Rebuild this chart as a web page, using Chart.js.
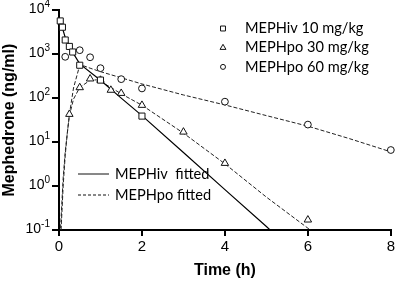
<!DOCTYPE html>
<html>
<head>
<meta charset="utf-8">
<script src="https://cdn.jsdelivr.net/npm/chart.js@4.4.1/dist/chart.umd.min.js"></script>
<style>
    html, body { margin: 0; padding: 0; background: #fff; }
    canvas { display: block; }
</style>
</head>
<body>
<canvas id="pkChart" width="397" height="282"></canvas>
<script>
// Observed concentrations (ng/ml) vs time (h)
const ivTime = [0.03, 0.083, 0.15, 0.25, 0.33, 0.5, 1, 2];
const ivConc = [5700, 4100, 2100, 1500, 1120, 560, 257, 39];
const po30Time = [0.25, 0.5, 0.75, 1, 1.25, 1.5, 2, 3, 4, 6];
const po30Conc = [43, 174, 275, 257, 152, 129, 69, 17, 3.3, 0.17];
const po60Time = [0.15, 0.5, 0.75, 1, 1.5, 2, 4, 6, 8];
const po60Conc = [870, 1230, 850, 480, 270, 166, 83, 25, 6.6];

// Fitted curves
const ivFitTime = [0, 0.08, 0.15, 0.25, 0.33, 0.5, 1, 1.5, 2, 3, 4, 5, 5.2];
const ivFitConc = [6500, 4000, 2400, 1500, 1100, 600, 255, 100, 40, 5.8, 0.83, 0.12, 0.08];
const po30FitTime = [0.05, 0.1, 0.15, 0.2, 0.25, 0.35, 0.5, 0.75, 0.9, 1, 1.25, 1.5, 2, 3, 4, 5, 6, 6.2];
const po30FitConc = [0.1, 1, 5, 16, 40, 95, 175, 255, 260, 240, 175, 125, 69, 16, 3.2, 0.56, 0.11, 0.08];
const po60FitTime = [0.03, 0.1, 0.15, 0.25, 0.35, 0.5, 0.6, 0.75, 1, 1.5, 2, 3, 4, 5, 6, 7, 8];
const po60FitConc = [0.08, 1.5, 6, 42, 170, 560, 540, 480, 400, 290, 210, 118, 70, 40, 23, 12, 6];

const seriesNames = ['MEPHiv 10 mg/kg', 'MEPHpo 30 mg/kg', 'MEPHpo 60 mg/kg'];
const seriesStyles = ['rect', 'triangle', 'circle'];
const fitNames = ['MEPHiv  fitted', 'MEPHpo fitted'];

const xTicks = [0, 2, 4, 6, 8];
const yTicks = [0.1, 1, 10, 100, 1000, 10000];
const yExponents = ['-1', '0', '1', '2', '3', '4'];

const toPoints = (xs, ys) => xs.map((x, i) => ({ x: x, y: ys[i] }));

function drawMarker(ctx, style, x, y, r) {
    ctx.beginPath();
    if (style === 'rect') {
        const s = r * Math.SQRT1_2;
        ctx.rect(x - s, y - s, 2 * s, 2 * s);
    } else if (style === 'triangle') {
        let a = 0;
        ctx.moveTo(x + Math.sin(a) * r, y - Math.cos(a) * r);
        a += Math.PI * 2 / 3;
        ctx.lineTo(x + Math.sin(a) * r, y - Math.cos(a) * r);
        a += Math.PI * 2 / 3;
        ctx.lineTo(x + Math.sin(a) * r, y - Math.cos(a) * r);
        ctx.closePath();
    } else {
        ctx.arc(x, y, r, 0, Math.PI * 2);
    }
    ctx.fill();
    ctx.stroke();
}

const labelPlugin = {
    id: 'labelPlugin',
    afterDraw(chart) {
        const ctx = chart.ctx;
        const yScale = chart.scales.y;
        ctx.save();
        ctx.fillStyle = '#000';
        ctx.textBaseline = 'alphabetic';
        ctx.textAlign = 'right';
        // log tick labels as 10 with a raised exponent
        yTicks.forEach((v, i) => {
            const py = yScale.getPixelForValue(v);
            ctx.font = '10px "Liberation Sans"';
            const ew = ctx.measureText(yExponents[i]).width;
            ctx.fillText(yExponents[i], 50, py - 3);
            ctx.font = '14px "Liberation Sans"';
            ctx.fillText('10', 50 - ew, py + 3);
        });

        // symbol legend, top right
        ctx.textAlign = 'left';
        ctx.textBaseline = 'middle';
        ctx.font = '14.6px Lato';
        ctx.strokeStyle = '#111';
        ctx.lineWidth = 1;
        const markR = [3.5, 3.4, 2.5];
        seriesNames.forEach((name, i) => {
            const ly = 28.5 + i * 19.2;
            ctx.fillStyle = '#fff';
            drawMarker(ctx, seriesStyles[i], 223, ly, markR[i]);
            ctx.fillStyle = '#000';
            ctx.fillText(name, 245, ly);
        });

        // fitted line legend, lower left
        fitNames.forEach((name, i) => {
            const ly = 174 + i * 21;
            ctx.beginPath();
            ctx.setLineDash(i === 0 ? [] : [3, 2]);
            ctx.lineWidth = 1;
            ctx.moveTo(78, ly);
            ctx.lineTo(109, ly);
            ctx.stroke();
            ctx.setLineDash([]);
            ctx.fillText(name, 115, ly);
        });
        ctx.restore();
    }
};

const markerBase = {
    showLine: false,
    pointBackgroundColor: '#fff',
    pointBorderColor: '#111',
    pointBorderWidth: 1,
    clip: false,
};
const lineBase = {
    showLine: true,
    pointRadius: 0,
    borderColor: '#000',
    borderWidth: 1,
    tension: 0,
};

new Chart(document.getElementById('pkChart'), {
    type: 'scatter',
    data: {
        datasets: [
            { ...markerBase, label: seriesNames[0], data: toPoints(ivTime, ivConc), pointStyle: 'rect', pointRadius: 4.3 },
            { ...markerBase, label: seriesNames[1], data: toPoints(po30Time, po30Conc), pointStyle: 'triangle', pointRadius: 4.3 },
            { ...markerBase, label: seriesNames[2], data: toPoints(po60Time, po60Conc), pointStyle: 'circle', pointRadius: 3.4 },
            { ...lineBase, label: fitNames[0], data: toPoints(ivFitTime, ivFitConc), borderWidth: 1.2 },
            { ...lineBase, label: fitNames[1], data: toPoints(po30FitTime, po30FitConc), borderDash: [4, 2], borderColor: '#222' },
            { ...lineBase, label: 'po60 fit', data: toPoints(po60FitTime, po60FitConc), borderDash: [4, 2], borderColor: '#222' },
        ],
    },
    options: {
        responsive: false,
        animation: false,
        devicePixelRatio: 1,
        layout: { padding: { left: 0, right: 5, top: 10, bottom: 0 } },
        plugins: { legend: { display: false }, tooltip: { enabled: false } },
        scales: {
            x: {
                type: 'linear',
                min: 0,
                max: 8,
                afterBuildTicks: s => { s.ticks = xTicks.map(v => ({ value: v })); },
                afterFit: s => { s.height = 52; },
                ticks: { color: '#000', font: { family: 'Liberation Sans', size: 15 }, padding: 2 },
                grid: { drawOnChartArea: false, drawTicks: true, tickLength: 6, color: '#000', lineWidth: 2 },
                border: { color: '#000', width: 2 },
                title: { display: true, text: 'Time (h)', color: '#000', font: { family: 'Liberation Sans', size: 16, weight: 'bold' }, padding: { top: 0, bottom: 2 } },
            },
            y: {
                type: 'logarithmic',
                min: 0.1,
                max: 10000,
                afterBuildTicks: s => { s.ticks = yTicks.map(v => ({ value: v })); },
                afterFit: s => { s.width = 59; },
                ticks: { callback: () => '', autoSkip: false },
                grid: { drawOnChartArea: false, drawTicks: true, tickLength: 7, color: '#000', lineWidth: 2 },
                border: { color: '#000', width: 2 },
                title: { display: true, text: 'Mephedrone (ng/ml)', color: '#000', font: { family: 'Liberation Sans', size: 16, weight: 'bold' }, padding: { top: 0, bottom: 0 } },
            },
        },
    },
    plugins: [labelPlugin],
});
</script>
</body>
</html>
